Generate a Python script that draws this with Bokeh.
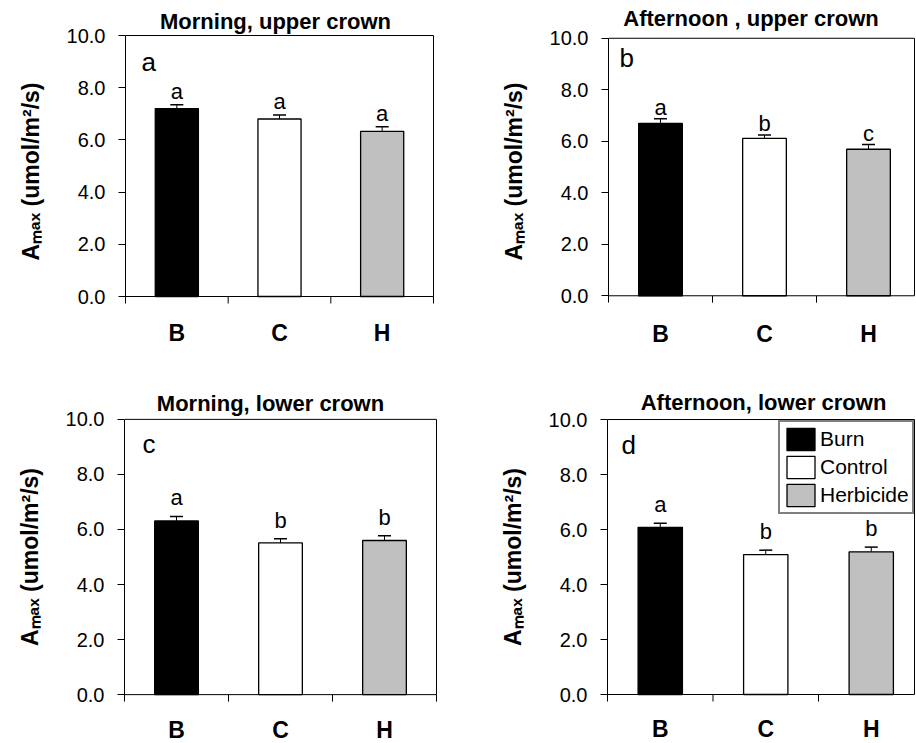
from bokeh.plotting import figure
from bokeh.models import (Range1d, FixedTicker, PrintfTickFormatter, ColumnDataSource,
                          Whisker, TeeHead, Label, Legend, LegendItem, BoxAnnotation)
from bokeh.layouts import column, row
from bokeh.embed import file_html
from bokeh.resources import INLINE
from bokeh.core.properties import value

# ---------------- data ----------------
categories = ["B", "C", "H"]
treatments = ["Burn", "Control", "Herbicide"]
bar_colors = ["#000000", "#ffffff", "#c0c0c0"]
y_ticks = [0, 2, 4, 6, 8, 10]
y_label = "A\u2098\u2090\u2093 (umol/m\u00b2/s)"

titles = ["Morning, upper crown", "Afternoon , upper crown",
          "Morning, lower crown", "Afternoon, lower crown"]
panel_letters = ["a", "b", "c", "d"]

mean_morning_upper = [7.20, 6.80, 6.33]
se_morning_upper = [0.15, 0.15, 0.17]
sig_morning_upper = ["a", "a", "a"]

mean_afternoon_upper = [6.69, 6.11, 5.69]
se_afternoon_upper = [0.18, 0.13, 0.18]
sig_afternoon_upper = ["a", "b", "c"]

mean_morning_lower = [6.31, 5.51, 5.60]
se_morning_lower = [0.16, 0.15, 0.17]
sig_morning_lower = ["a", "b", "b"]

mean_afternoon_lower = [6.08, 5.09, 5.19]
se_afternoon_lower = [0.15, 0.16, 0.17]
sig_afternoon_lower = ["a", "b", "b"]

FONT = "Liberation Sans"

# layout / style per panel (pixels): figure size, frame top / bottom border,
# plot-box left/top/width/height, pixels per category, text centre offsets
layouts = [
    dict(W=458, H=360, ft=0, fb=18, bl=125, bt=35, bw=308, bh=261, cat=308 / 3,
         tx=150, ty=14.3, sig=13.6, lx=16, ly=26, xlab=36.7),
    dict(W=458, H=360, ft=0, fb=16, bl=150, bt=38, bw=306, bh=259, cat=104,
         tx=142.5, ty=19.3, sig=11.1, lx=11, ly=20, xlab=38.3),
    dict(W=458, H=383, ft=9, fb=0, bl=124, bt=58, bw=312, bh=276, cat=104,
         tx=146, ty=16, sig=18.6, lx=18, ly=25, xlab=35),
    dict(W=458, H=383, ft=10, fb=0, bl=149, bt=59, bw=307, bh=275, cat=105.5,
         tx=156, ty=17.3, sig=18.6, lx=14, ly=25, xlab=34.7),
]


def make_panel(title, letter, means, ses, sigs, lay, legend=False):
    W, H, bl, bt, bw, bh, cat = (lay[k] for k in ("W", "H", "bl", "bt", "bw", "bh", "cat"))
    ft, fb = lay["ft"], lay["fb"]
    frame_w = min(bw + 2, W - bl)
    br = W - bl - frame_w
    scale = bh / 10.0
    y_hi = 10 + (bt - ft) / scale
    y_lo = -(H - fb - bt - bh) / scale
    x_end = frame_w / cat
    box_right = bw / cat
    n = len(categories)
    xs = [i + 0.5 for i in range(n)]

    p = figure(width=W, height=H, output_backend="svg", toolbar_location=None,
               x_range=Range1d(0, x_end), y_range=Range1d(y_lo, y_hi),
               x_axis_location=None,
               min_border_left=bl, min_border_right=br,
               min_border_top=ft, min_border_bottom=fb)
    p.background_fill_color = "white"
    p.border_fill_color = "white"
    p.outline_line_color = None
    p.grid.visible = False

    # y axis
    ya = p.yaxis[0]
    ya.ticker = FixedTicker(ticks=y_ticks)
    ya.formatter = PrintfTickFormatter(format="%.1f")
    ya.bounds = (-7 / scale, 10)
    ya.major_label_text_font = FONT
    ya.major_label_text_font_size = "20px"
    ya.major_label_text_color = "black"
    ya.major_tick_out = 7
    ya.major_tick_in = 0
    ya.minor_tick_out = 0
    ya.minor_tick_in = 0
    ya.major_label_standoff = 13
    ya.axis_line_color = "black"
    ya.major_tick_line_color = "black"
    ya.axis_label = y_label
    ya.axis_label_text_font = FONT
    ya.axis_label_text_font_size = "23px"
    ya.axis_label_text_font_style = "bold"
    ya.axis_label_text_color = "black"
    ya.axis_label_standoff = 20

    # plot box (its bottom edge is the x axis line at y = 0)
    p.add_layout(BoxAnnotation(left=0, right=box_right, bottom=0, top=10,
                               fill_color=None, fill_alpha=0,
                               line_color="black", line_width=1, line_alpha=1))

    # category boundary ticks below the x axis line
    bks = [k for k in range(1, n + 1) if k <= x_end]
    p.segment(x0=bks, y0=[0] * len(bks), x1=bks, y1=[-7 / scale] * len(bks),
              line_color="black", line_width=1)

    src = ColumnDataSource(dict(
        x=xs, mean=means, upper=[m + s for m, s in zip(means, ses)],
        color=bar_colors, sig=sigs, cat=categories, zero=[0] * n))
    bars = p.vbar(x="x", top="mean", bottom=0, width=0.42, source=src,
                  fill_color="color", line_color="black", line_width=1.3)
    p.add_layout(Whisker(source=src, base="x", lower="mean", upper="upper",
                         dimension="height", line_color="black", line_width=1,
                         upper_head=TeeHead(size=13, line_color="black", line_width=1.5),
                         lower_head=None))
    p.text(x="x", y="upper", text="sig", source=src, text_align="center",
           text_baseline="middle", y_offset=-lay["sig"],
           text_font=value(FONT), text_font_size="22px", text_color="black")

    # category labels under the axis
    p.text(x="x", y="zero", text="cat", source=src, text_align="center",
           text_baseline="middle", y_offset=lay["xlab"],
           text_font=value(FONT), text_font_style="bold",
           text_font_size="23px", text_color="black")

    # panel title above the box
    p.text(x=[lay["tx"] / cat], y=[10], text=[title], text_align="center",
           text_baseline="middle", y_offset=-lay["ty"],
           text_font=value(FONT), text_font_style="bold",
           text_font_size="22px", text_color="black")

    p.add_layout(Label(x=0, y=10, x_offset=lay["lx"], y_offset=-lay["ly"], text=letter,
                       text_align="left", text_baseline="middle",
                       text_font=FONT, text_font_size="26px", text_color="black"))

    if legend:
        items = [LegendItem(label=t, renderers=[bars], index=i) for i, t in enumerate(treatments)]
        # legend placed by its lower-left corner, in pixels from the frame's lower-left
        lg = Legend(items=items, location=(171, H - fb - ft - (bt - ft) - 95),
                    padding=3, glyph_width=35, glyph_height=28, label_height=28,
                    spacing=0, label_standoff=2, label_text_font=FONT,
                    label_text_font_size="21px", label_text_color="black",
                    border_line_color="black", border_line_width=2,
                    background_fill_color="white", background_fill_alpha=1)
        p.add_layout(lg)
    return p


pa = make_panel(titles[0], panel_letters[0], mean_morning_upper, se_morning_upper,
                sig_morning_upper, layouts[0])
pb = make_panel(titles[1], panel_letters[1], mean_afternoon_upper, se_afternoon_upper,
                sig_afternoon_upper, layouts[1])
pc = make_panel(titles[2], panel_letters[2], mean_morning_lower, se_morning_lower,
                sig_morning_lower, layouts[2])
pd_ = make_panel(titles[3], panel_letters[3], mean_afternoon_lower, se_afternoon_lower,
                 sig_afternoon_lower, layouts[3], legend=True)

layout = column(row(pa, pb), row(pc, pd_))
open("out.html", "w").write(file_html(layout, INLINE))
